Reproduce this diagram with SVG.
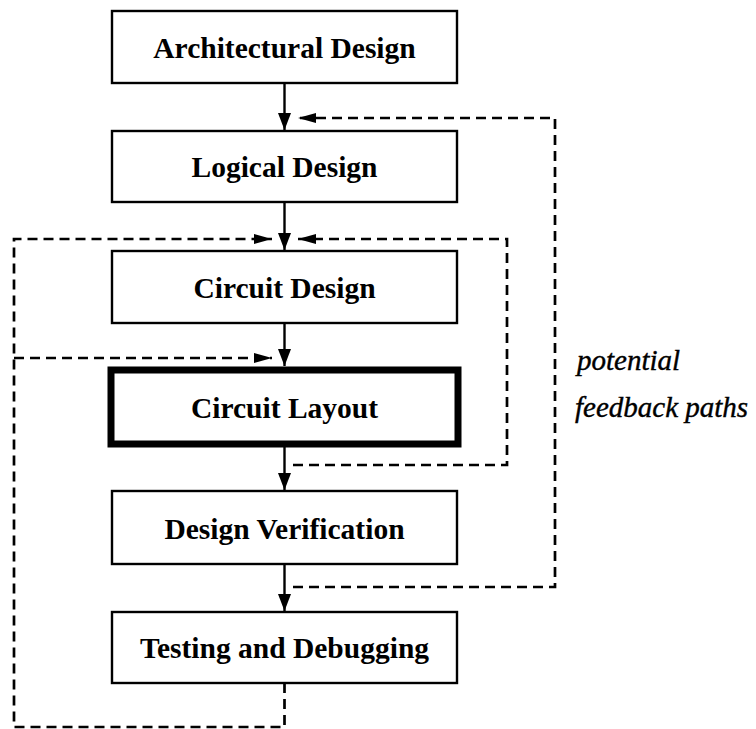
<svg xmlns="http://www.w3.org/2000/svg" width="756" height="729" viewBox="0 0 756 729">
  <style>
    .box { fill: #fff; stroke: #000; stroke-width: 2.4; }
    .box.heavy { stroke-width: 7; }
    .label { font-family: "Liberation Serif", "Times New Roman", serif; font-weight: bold; font-size: 29.5px; text-anchor: middle; fill: #000; }
    .note { font-family: "Liberation Serif", "Times New Roman", serif; font-style: italic; font-size: 29px; fill: #000; stroke: #000; stroke-width: 0.4; }
    .flow { fill: none; stroke: #000; stroke-width: 2.4; }
    .feedback { fill: none; stroke: #000; stroke-width: 2.7; stroke-dasharray: 10 6; }
  </style>
  <defs>
    <marker id="arrow" markerUnits="userSpaceOnUse" markerWidth="17" markerHeight="13" refX="17" refY="6.5" orient="auto">
      <path d="M0,0 L17,6.5 L0,13 z" fill="#000"/>
    </marker>
    <marker id="arrow-fb" markerUnits="userSpaceOnUse" markerWidth="18" markerHeight="10" refX="18" refY="5" orient="auto">
      <path d="M0,0 L18,5 L0,10 z" fill="#000"/>
    </marker>
  </defs>

  <!-- design flow stages -->
  <g id="architectural-design">
    <rect class="box" x="112" y="11" width="345" height="72"/>
    <text class="label" x="284.5" y="57.5">Architectural Design</text>
  </g>
  <g id="logical-design">
    <rect class="box" x="112" y="131" width="345" height="71"/>
    <text class="label" x="284.5" y="177">Logical Design</text>
  </g>
  <g id="circuit-design">
    <rect class="box" x="112" y="251" width="345" height="72"/>
    <text class="label" x="284.5" y="297.5">Circuit Design</text>
  </g>
  <g id="circuit-layout">
    <rect class="box heavy" x="111" y="370" width="347" height="74"/>
    <text class="label" x="284.5" y="417.5">Circuit Layout</text>
  </g>
  <g id="design-verification">
    <rect class="box" x="112" y="491" width="345" height="73"/>
    <text class="label" x="284.5" y="538.5">Design Verification</text>
  </g>
  <g id="testing-debugging">
    <rect class="box" x="112" y="612" width="345" height="71"/>
    <text class="label" x="284.5" y="658">Testing and Debugging</text>
  </g>

  <g id="feedback-label">
    <text class="note" x="577" y="370">potential</text>
    <text class="note" x="575" y="417">feedback paths</text>
  </g>

  <g id="connectors">
    <!-- forward flow -->
    <line class="flow" x1="284.5" y1="83" x2="284.5" y2="130" marker-end="url(#arrow)"/>
    <line class="flow" x1="284.5" y1="202" x2="284.5" y2="250" marker-end="url(#arrow)"/>
    <line class="flow" x1="284.5" y1="323" x2="284.5" y2="366" marker-end="url(#arrow)"/>
    <line class="flow" x1="284.5" y1="447" x2="284.5" y2="490" marker-end="url(#arrow)"/>
    <line class="flow" x1="284.5" y1="564" x2="284.5" y2="611" marker-end="url(#arrow)"/>

    <!-- feedback: verification back to logical design -->
    <polyline class="feedback" points="293,587 555,587 555,118 298,118" marker-end="url(#arrow-fb)"/>
    <!-- feedback: layout back to circuit design -->
    <polyline class="feedback" points="293,465 507,465 507,239 298,239" marker-end="url(#arrow-fb)"/>
    <!-- feedback: testing back to circuit design and layout -->
    <polyline class="feedback" points="284.5,683 284.5,727 14,727 14,239 272,239" marker-end="url(#arrow-fb)"/>
    <line class="feedback" x1="14" y1="358" x2="272" y2="358" marker-end="url(#arrow-fb)"/>
  </g>
</svg>
